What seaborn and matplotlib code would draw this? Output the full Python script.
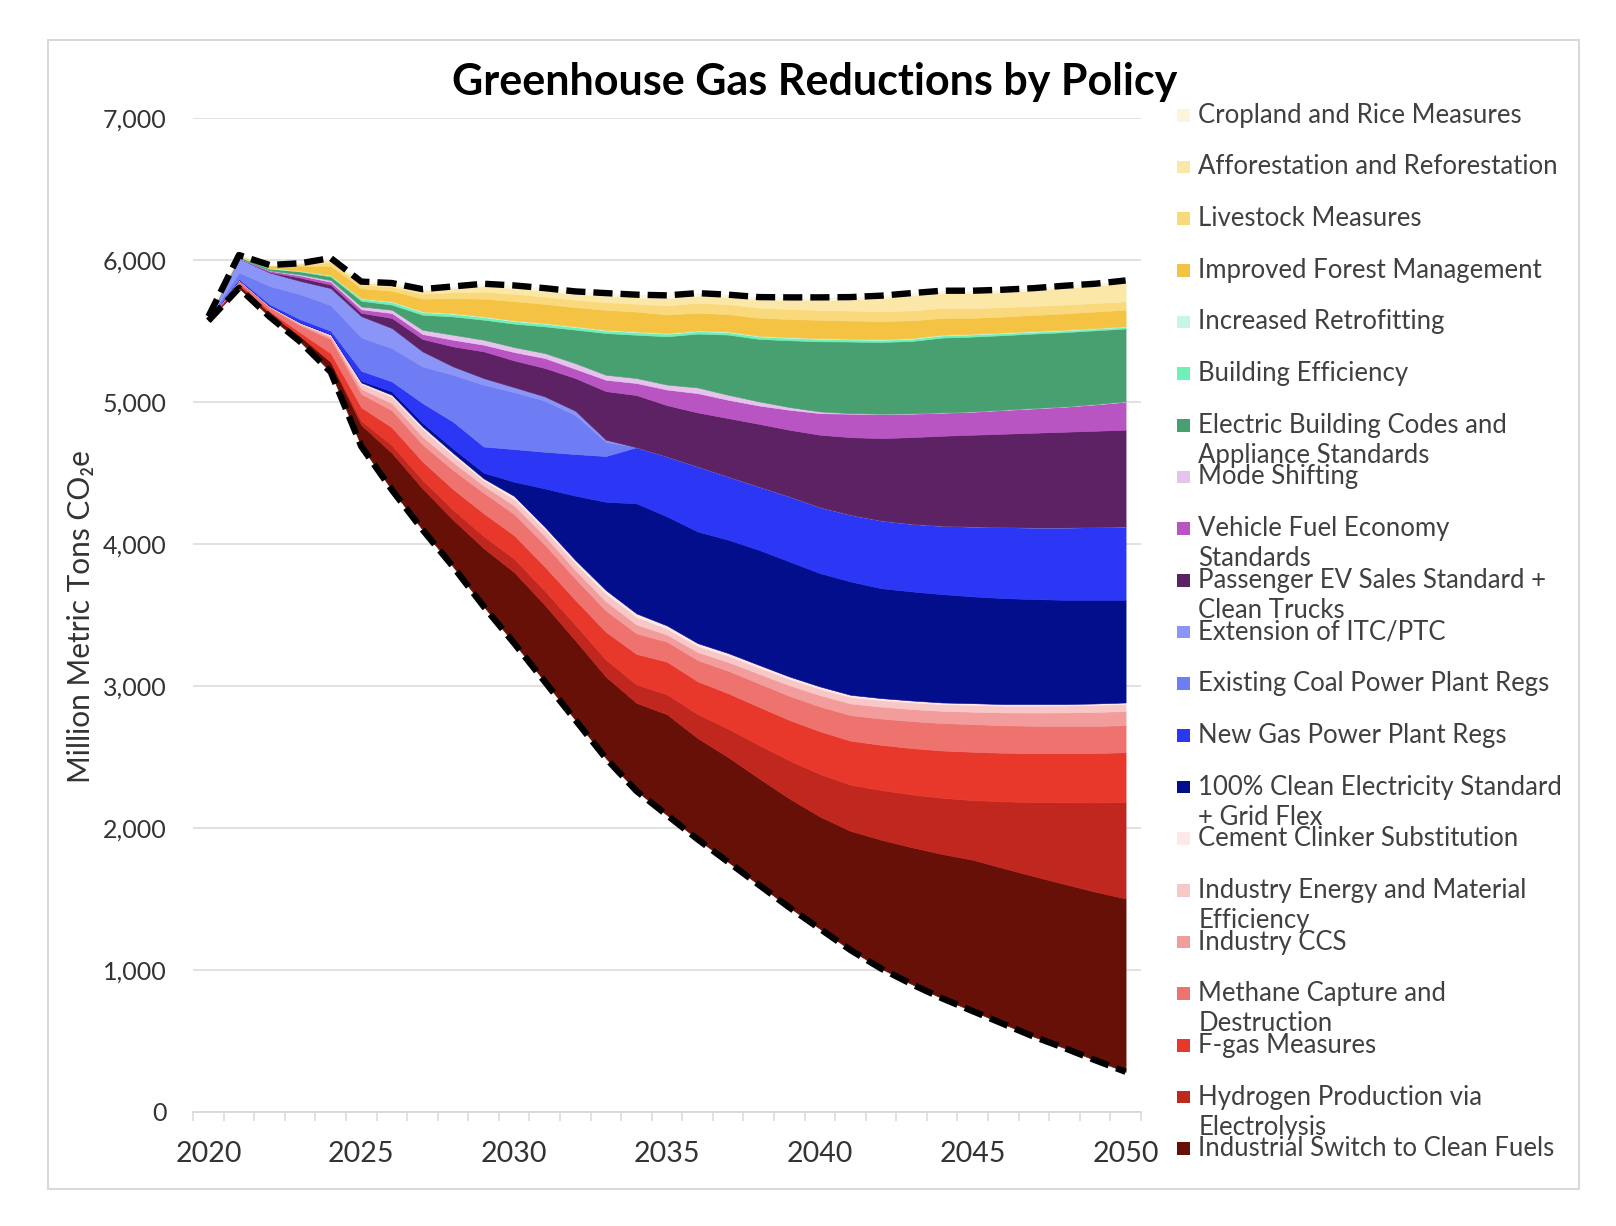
import numpy as np
import pandas as pd
import matplotlib
matplotlib.use("Agg")
import matplotlib.pyplot as plt
import seaborn as sns
from matplotlib.patches import Rectangle
from matplotlib.ticker import FixedLocator, FuncFormatter

# ---------------- data (Million Metric Tons CO2e) ----------------
years = list(range(2020, 2051))

with_policies = [5570, 5801, 5599, 5423, 5210, 4686, 4380, 4100, 3840, 3560, 3300,
                 3030, 2760, 2490, 2260, 2090, 1920, 1760, 1600, 1440, 1290,
                 1140, 1010, 900, 800, 710, 620, 530, 450, 365, 283]

industrial_switch = [3, 23, 25, 40, 70, 150, 260, 290, 330, 410, 500, 540, 560, 575, 620, 710,
                     712, 738, 750, 767, 790, 839, 907, 964, 1016, 1066, 1097, 1130, 1155, 1186, 1220]
hydrogen = [0, 0, 0, 0, 2, 30, 55, 60, 70, 85, 95, 100, 110, 120, 130, 140,
            170, 200, 235, 268, 300, 325, 350, 372, 396, 420, 470, 522, 575, 628, 680]
fgas = [3, 12, 16, 25, 60, 95, 125, 130, 145, 160, 165, 170, 175, 195, 215, 230,
        230, 250, 268, 285, 300, 310, 318, 326, 333, 340, 342, 344, 346, 348, 350]
methane = [4, 18, 25, 50, 100, 95, 120, 120, 135, 145, 150, 155, 150, 150, 145, 141,
           150, 158, 165, 170, 175, 180, 185, 190, 193, 195, 194, 193, 192, 191, 190]
industry_ccs = [0, 3, 5, 10, 15, 35, 50, 55, 55, 50, 60, 60, 60, 65, 62, 50,
                56, 62, 68, 74, 80, 82, 84, 85, 86, 87, 90, 93, 95, 98, 100]
industry_eff = [0, 2, 4, 8, 15, 35, 45, 55, 47, 37, 45, 45, 50, 55, 55, 42,
                43, 44, 44, 45, 45, 46, 46, 47, 47, 48, 48, 49, 49, 50, 50]
cement = [0, 0, 1, 2, 3, 10, 14, 17, 18, 14, 22, 20, 21, 24, 23, 22,
          20, 19, 18, 17, 16, 15, 14, 13, 12, 12, 11, 11, 10, 10, 10]
clean_electricity = [0, 0, 0, 0, 0, 12, 24, 25, 30, 40, 100, 270, 453, 622, 775, 768,
                     786, 798, 810, 810, 798, 798, 774, 768, 763, 752, 746, 739, 734, 730, 723]
new_gas = [2, 5, 12, 23, 25, 70, 70, 139, 190, 184, 230, 258, 293, 322, 395, 422,
           458, 445, 446, 458, 465, 470, 477, 476, 481, 492, 500, 504, 509, 512, 516]
existing_coal = [5, 47, 129, 176, 180, 235, 235, 258, 330, 435, 401, 360, 275, 100, 0, 0,
                 0, 0, 0, 0, 0, 0, 0, 0, 0, 0, 0, 0, 0, 0, 0]
itc_ptc = [13, 100, 94, 94, 120, 150, 141, 106, 59, 47, 35, 30, 30, 15, 0, 0,
           0, 0, 0, 0, 0, 0, 0, 0, 0, 0, 0, 0, 0, 0, 0]
passenger_ev = [0, 0, 3, 23, 25, 23, 71, 87, 141, 188, 188, 200, 230, 342, 367, 361,
                380, 411, 441, 469, 509, 546, 579, 610, 634, 646, 657, 667, 674, 678, 681]
vehicle_fuel = [0, 0, 10, 15, 20, 25, 35, 35, 47, 47, 59, 70, 65, 80, 85, 110,
                136, 129, 129, 141, 152, 165, 169, 165, 162, 162, 167, 171, 176, 185, 197]
mode_shifting = [0, 0, 2, 8, 12, 20, 23, 30, 35, 35, 35, 35, 40, 35, 35, 35,
                 40, 35, 29, 19, 12, 4, 3, 2, 2, 2, 2, 3, 2, 3, 3]
electric_building = [0, 10, 12, 20, 25, 40, 36, 106, 129, 141, 165, 188, 236, 294, 305, 340,
                     379, 424, 440, 470, 494, 504, 505, 510, 527, 527, 525, 524, 523, 519, 513]
building_eff = [0, 4, 4, 5, 8, 15, 18, 18, 18, 18, 18, 18, 18, 18, 18, 18,
                17, 17, 17, 17, 17, 15, 15, 15, 15, 15, 14, 13, 12, 12, 11]
retrofitting = [0, 1, 1, 1, 2, 3, 5, 5, 5, 5, 5, 5, 5, 5, 5, 5,
                5, 5, 5, 5, 5, 5, 5, 5, 5, 5, 5, 5, 5, 4, 4]
forest_mgmt = [0, 5, 15, 35, 65, 70, 75, 90, 105, 125, 135, 135, 135, 140, 140, 130,
               125, 122, 127, 128, 129, 128, 127, 125, 118, 112, 112, 113, 115, 116, 117]
livestock = [0, 2, 4, 12, 25, 25, 28, 35, 42, 50, 52, 52, 52, 55, 55, 65,
             70, 70, 70, 70, 70, 70, 70, 70, 70, 68, 66, 64, 62, 60, 59]
afforestation = [0, 0, 2, 5, 20, 15, 18, 22, 28, 38, 40, 40, 40, 43, 44, 50,
                 50, 50, 57, 64, 70, 77, 91, 104, 104, 105, 105, 108, 116, 120, 131]
cropland = [0, 0, 0, 0, 10, 7, 8, 10, 13, 17, 19, 19, 19, 20, 20, 20,
            18, 17, 18, 18, 18, 18, 18, 18, 18, 18, 18, 17, 17, 16, 16]

# stack order bottom -> top
policy_names = [
    "Industrial Switch to Clean Fuels",
    "Hydrogen Production via\nElectrolysis",
    "F-gas Measures",
    "Methane Capture and\nDestruction",
    "Industry CCS",
    "Industry Energy and Material\nEfficiency",
    "Cement Clinker Substitution",
    "100% Clean Electricity Standard\n+ Grid Flex",
    "New Gas Power Plant Regs",
    "Existing Coal Power Plant Regs",
    "Extension of ITC/PTC",
    "Passenger EV Sales Standard +\nClean Trucks",
    "Vehicle Fuel Economy\nStandards",
    "Mode Shifting",
    "Electric Building Codes and\nAppliance Standards",
    "Building Efficiency",
    "Increased Retrofitting",
    "Improved Forest Management",
    "Livestock Measures",
    "Afforestation and Reforestation",
    "Cropland and Rice Measures",
]
policy_values = [industrial_switch, hydrogen, fgas, methane, industry_ccs, industry_eff,
                 cement, clean_electricity, new_gas, existing_coal, itc_ptc, passenger_ev,
                 vehicle_fuel, mode_shifting, electric_building, building_eff, retrofitting,
                 forest_mgmt, livestock, afforestation, cropland]
policy_colors = ["#661008", "#c0271f", "#e8382c", "#ee736f", "#f29d9b", "#f8c7c7",
                 "#fde8e8", "#020e8c", "#2b37f5", "#6f7df4", "#8b94f7", "#5c2263",
                 "#b955c2", "#e6c3ec", "#48a071", "#70f0b9", "#c9f6e4", "#f5c343",
                 "#f9d97b", "#fbe8a8", "#fdf4de"]

# ---------------- figure ----------------
sns.set_theme(style="white")
plt.rcParams["font.family"] = ["Lato", "DejaVu Sans"]

fig = plt.figure(figsize=(16.16, 12.26), dpi=100)
ax = fig.add_axes([0.1195, 0.093, 0.5865, 0.811])

df = pd.DataFrame({"year": years, "with_policies": with_policies})
lower = np.array(with_policies, dtype=float)
for vals, col in zip(policy_values, policy_colors):
    upper = lower + np.array(vals, dtype=float)
    ax.fill_between(years, lower, upper, facecolor=col, edgecolor=col, linewidth=0.4, zorder=2)
    lower = upper
df["baseline"] = lower

dash = (0, (3.0, 1.25))
sns.lineplot(data=df, x="year", y="baseline", ax=ax, color="black", linewidth=4.6,
             linestyle=dash, errorbar=None, zorder=5)
sns.lineplot(data=df, x="year", y="with_policies", ax=ax, color="black", linewidth=4.6,
             linestyle=dash, errorbar=None, zorder=5)

ax.set_xlim(2019.5, 2050.5)
ax.set_ylim(0, 7000)
ax.set_xlabel("")
ax.set_ylabel("")

grid_c = "#d9d9d9"
ax.set_yticks(range(0, 7001, 1000))
ax.yaxis.set_major_formatter(FuncFormatter(lambda v, p: f"{int(v):,}"))
ax.yaxis.grid(True, color=grid_c, linewidth=1.1, zorder=0)
ax.set_axisbelow(True)
ax.tick_params(axis="y", length=0, pad=19, labelsize=18, labelcolor="#333333")

ax.set_xticks(range(2020, 2051, 5))
ax.xaxis.set_minor_locator(FixedLocator([2019.5 + k for k in range(32)]))
ax.tick_params(axis="x", which="major", length=0, pad=21, labelsize=20.5, labelcolor="#333333")
ax.tick_params(axis="x", which="minor", length=6.5, width=1.1, color=grid_c, bottom=True)

for s in ["left", "right", "top"]:
    ax.spines[s].set_visible(False)
ax.spines["bottom"].set_color(grid_c)
ax.spines["bottom"].set_linewidth(1.3)

fig.text(0.050, 0.497, "Million Metric Tons CO\u2082e", rotation=90, ha="center", va="center",
         fontsize=21.5, color="#333333")
fig.text(0.504, 0.933, "Greenhouse Gas Reductions by Policy", ha="center", va="center",
         fontsize=31, fontweight="bold", color="black")

# legend (top of stack first)
leg_y0 = 0.906
leg_step = 0.04215
line_step = 0.0245
for i, (name, col) in enumerate(zip(policy_names[::-1], policy_colors[::-1])):
    yc = leg_y0 - i * leg_step
    fig.patches.append(Rectangle((0.7285, yc - 0.0052), 0.0078, 0.0104,
                                 transform=fig.transFigure, facecolor=col, edgecolor="none"))
    for j, line in enumerate(name.split("\n")):
        fig.text(0.7415, yc - j * line_step, line, ha="left", va="center",
                 fontsize=18.5, color="#404040")

fig.patches.append(Rectangle((0.030, 0.030), 0.947, 0.937, transform=fig.transFigure,
                             fill=False, edgecolor=grid_c, linewidth=1.5))

fig.savefig("out.png", dpi=100, facecolor="white")
